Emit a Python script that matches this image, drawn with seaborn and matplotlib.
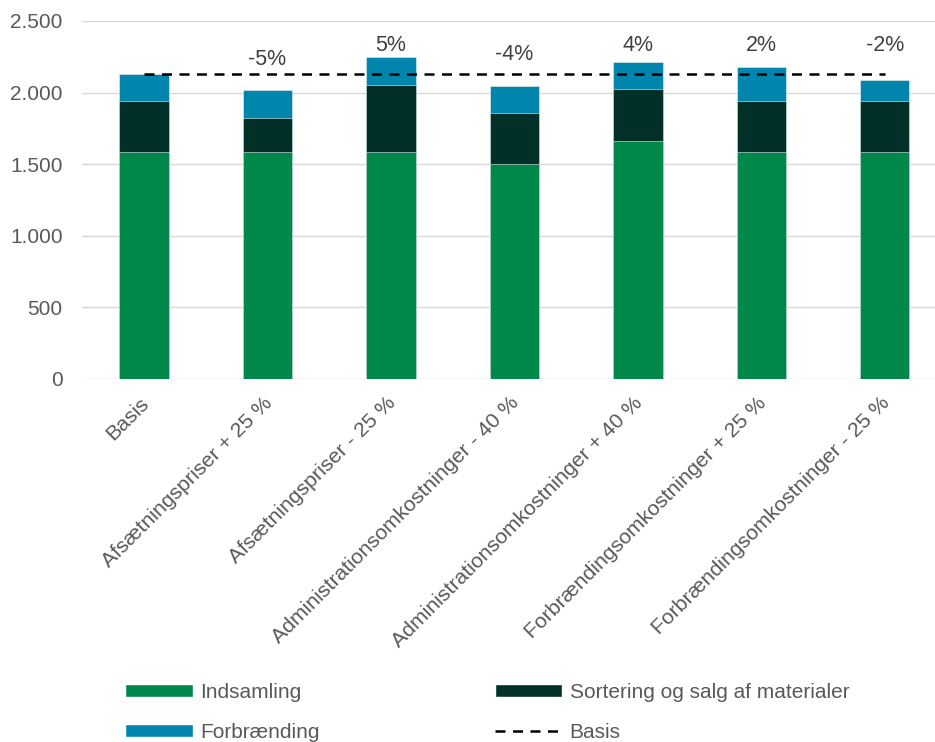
import matplotlib
matplotlib.use("Agg")
import matplotlib.pyplot as plt
from matplotlib.patches import Patch
from matplotlib.lines import Line2D
import matplotlib.transforms as mtransforms
import seaborn as sns
import numpy as np

categories = [
    "Basis",
    "Afsætningspriser + 25 %",
    "Afsætningspriser - 25 %",
    "Administrationsomkostninger - 40 %",
    "Administrationsomkostninger + 40 %",
    "Forbrændingsomkostninger + 25 %",
    "Forbrændingsomkostninger - 25 %",
]
indsamling = [1583, 1583, 1583, 1500, 1664, 1583, 1583]
sortering = [358, 242, 472, 358, 359, 358, 358]
forbraending = [189, 193, 191, 190, 191, 238, 145]
change_labels = ["", "-5%", "5%", "-4%", "4%", "2%", "-2%"]
y_ticks = [0, 500, 1000, 1500, 2000, 2500]

# layout: vertical position of change labels (data units)
label_y = [None, 2228, 2332, 2263, 2332, 2332, 2332]

GREEN = "#00884A"
DARK = "#003027"
BLUE = "#0086AD"
GRID = "#D9D9D9"
TXT = "#595959"

sns.set_theme(style="white")
plt.rcParams["font.family"] = ["Liberation Sans", "DejaVu Sans"]

fig = plt.figure(figsize=(9.35, 7.42), dpi=100)
ax = fig.add_axes([82 / 935, 1 - 379 / 742, (935 - 82) / 935, (379 - 21) / 742])

ind = np.array(indsamling)
sor = np.array(sortering)
frb = np.array(forbraending)
tot = ind + sor + frb

sns.barplot(x=categories, y=tot, color=BLUE, saturation=1, width=0.4,
            edgecolor="#E8F0EC", linewidth=0.4, ax=ax, zorder=2)
sns.barplot(x=categories, y=ind + sor, color=DARK, saturation=1, width=0.4,
            edgecolor="#E8F0EC", linewidth=0.4, ax=ax, zorder=3)
sns.barplot(x=categories, y=ind, color=GREEN, saturation=1, width=0.4,
            edgecolor="#E8F0EC", linewidth=0.4, ax=ax, zorder=4)

basis = tot[0]
ax.plot([0, len(categories) - 1], [basis, basis], color="black", lw=1.8,
        dashes=(4, 3), zorder=5)

for i, (lab, yy) in enumerate(zip(change_labels, label_y)):
    if lab:
        ax.text(i, yy, lab, ha="center", va="center", fontsize=15.5, color="#404040")

ax.set_ylim(0, 2500)
ax.set_xlim(-0.502, 6.407)
ax.set_yticks(y_ticks)
ax.set_yticklabels([f"{v:,.0f}".replace(",", ".") for v in y_ticks])
ax.yaxis.grid(True, color=GRID, lw=1.0, zorder=0)
ax.set_axisbelow(True)
for s in ax.spines.values():
    s.set_visible(False)
ax.tick_params(axis="y", length=0, pad=14, labelsize=15, labelcolor=TXT)
ax.tick_params(axis="x", length=0, pad=6, labelsize=15.3, labelcolor=TXT)
offset = mtransforms.ScaledTranslation(-5 / 100, -6 / 100, fig.dpi_scale_trans)
for t in ax.get_xticklabels():
    t.set_rotation(45)
    t.set_ha("right")
    t.set_rotation_mode("anchor")
    t.set_transform(t.get_transform() + offset)
ax.set_xlabel("")
ax.set_ylabel("")

handles = [
    Patch(facecolor=GREEN, label="Indsamling"),
    Patch(facecolor=BLUE, label="Forbrænding"),
    Patch(facecolor=DARK, label="Sortering og salg af materialer"),
    Line2D([0], [0], color="black", lw=1.8, dashes=(4, 3), label="Basis"),
]
leg = fig.legend(handles=handles, ncol=2, loc="upper left",
                 bbox_to_anchor=(125 / 935, 1 - 683 / 742), frameon=False,
                 fontsize=15, handlelength=3.25, handleheight=0.55,
                 handletextpad=0.35, columnspacing=8.4, labelspacing=1.0,
                 borderpad=0, borderaxespad=0)
for t in leg.get_texts():
    t.set_color(TXT)

fig.savefig("out.png", dpi=100)
